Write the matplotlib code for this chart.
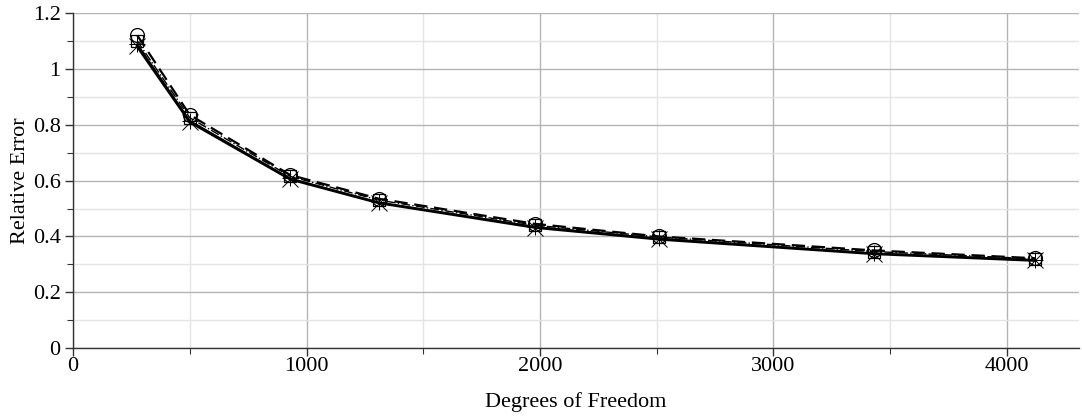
import matplotlib
matplotlib.use("Agg")
import matplotlib.pyplot as plt
from matplotlib.ticker import MultipleLocator

plt.rcParams['font.family'] = ['Liberation Serif', 'DejaVu Serif']

dof = [275, 500, 930, 1310, 1980, 2510, 3430, 4120]
err_circle = [1.12, 0.835, 0.620, 0.535, 0.445, 0.400, 0.350, 0.322]
err_square = [1.10, 0.825, 0.615, 0.530, 0.440, 0.398, 0.346, 0.320]
err_star   = [1.09, 0.815, 0.608, 0.522, 0.435, 0.393, 0.340, 0.316]
err_cross  = [1.08, 0.810, 0.605, 0.520, 0.432, 0.390, 0.338, 0.314]

fig = plt.figure(figsize=(10.82, 4.18), dpi=100)
ax = fig.add_axes([0.0675, 0.167, 0.93, 0.802])

ax.plot(dof, err_circle, color='black', lw=1.6, ls=(0, (6, 3)),
        marker='o', ms=10, mfc='none', mec='black', mew=0.9)
ax.plot(dof, err_square, color='black', lw=1.0, ls='-.',
        marker='s', ms=9, mfc='none', mec='black', mew=0.9)
ax.plot(dof, err_star, color='black', lw=1.0, ls='-',
        marker='+', ms=12, mfc='none', mec='black', mew=0.7)
ax.plot(dof, err_cross, color='black', lw=2.0, ls='-',
        marker='x', ms=11, mfc='none', mec='black', mew=0.7)

ax.set_xlim(0, 4310)
ax.set_ylim(0, 1.2)
ax.xaxis.set_major_locator(MultipleLocator(1000))
ax.xaxis.set_minor_locator(MultipleLocator(500))
ax.yaxis.set_major_locator(MultipleLocator(0.2))
ax.yaxis.set_minor_locator(MultipleLocator(0.1))
ax.set_yticks([0, 0.2, 0.4, 0.6, 0.8, 1.0, 1.2])
ax.set_yticklabels(['0', '0.2', '0.4', '0.6', '0.8', '1', '1.2'])

ax.grid(which='major', color='#b4b4b4', lw=1.0)
ax.grid(which='minor', color='#e4e4e4', lw=1.0)
ax.set_axisbelow(True)

for s in ('top', 'right'):
    ax.spines[s].set_visible(False)
for s in ('left', 'bottom'):
    ax.spines[s].set_linewidth(1.0)
    ax.spines[s].set_color('#333333')

ax.tick_params(which='major', direction='out', length=6, width=1.0,
               labelsize=16, colors='#333333', labelcolor='black', pad=3)
ax.tick_params(axis='x', which='major', pad=0)
ax.tick_params(which='minor', direction='out', length=4, width=0.8, colors='#333333')

ax.set_xlabel('Degrees of Freedom', fontsize=16, labelpad=12)
ax.set_ylabel('Relative Error', fontsize=16, labelpad=2)

fig.savefig('out.png', dpi=100)
